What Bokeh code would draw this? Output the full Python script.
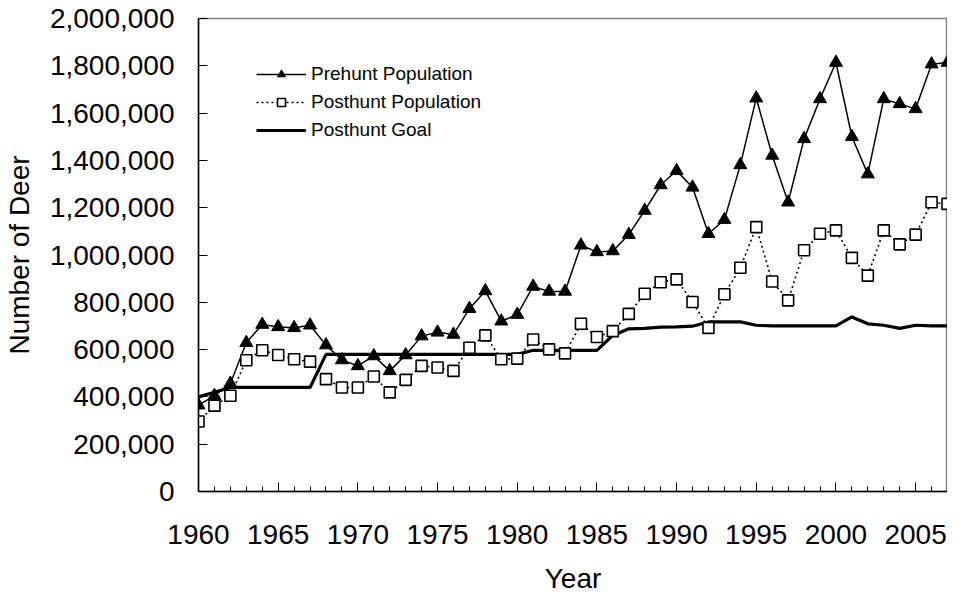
from bokeh.plotting import figure
from bokeh.models import (FixedTicker, NumeralTickFormatter, Legend, LegendItem,
                          Range1d, ColumnDataSource)
from bokeh.embed import file_html
from bokeh.resources import INLINE

years = [1960, 1961, 1962, 1963, 1964, 1965, 1966, 1967, 1968, 1969,
         1970, 1971, 1972, 1973, 1974, 1975, 1976, 1977, 1978, 1979,
         1980, 1981, 1982, 1983, 1984, 1985, 1986, 1987, 1988, 1989,
         1990, 1991, 1992, 1993, 1994, 1995, 1996, 1997, 1998, 1999,
         2000, 2001, 2002, 2003, 2004, 2005, 2006, 2007]

prehunt = [365000, 405000, 457000, 629000, 706000, 696000, 692000, 703000, 619000, 556000,
           531000, 573000, 510000, 577000, 657000, 673000, 664000, 773000, 848000, 720000,
           748000, 867000, 846000, 846000, 1041000, 1013000, 1017000, 1086000, 1188000, 1296000,
           1356000, 1286000, 1090000, 1149000, 1381000, 1663000, 1421000, 1223000, 1491000, 1660000,
           1814000, 1500000, 1342000, 1660000, 1639000, 1618000, 1807000, 1814000]

posthunt = [296000, 363000, 405000, 555000, 597000, 577000, 559000, 549000, 475000, 440000,
            440000, 486000, 419000, 472000, 531000, 524000, 510000, 608000, 660000, 559000,
            562000, 643000, 601000, 584000, 709000, 653000, 678000, 751000, 836000, 885000,
            897000, 801000, 692000, 834000, 946000, 1118000, 888000, 808000, 1020000, 1090000,
            1104000, 988000, 913000, 1104000, 1045000, 1086000, 1223000, 1216000]

goal = [400000, 420000, 440000, 440000, 440000, 440000, 440000, 440000, 580000, 580000,
        580000, 580000, 580000, 580000, 580000, 580000, 580000, 580000, 580000, 580000,
        580000, 597000, 597000, 597000, 597000, 597000, 660000, 688000, 690000, 695000,
        696000, 699000, 717000, 717000, 717000, 703000, 700000, 700000, 700000, 700000,
        700000, 738000, 709000, 703000, 690000, 703000, 700000, 700000]

major_years = [1960, 1965, 1970, 1975, 1980, 1985, 1990, 1995, 2000, 2005]
y_ticks = [0, 200000, 400000, 600000, 800000, 1000000, 1200000, 1400000,
           1600000, 1800000, 2000000]

src = ColumnDataSource(dict(year=years, pre=prehunt, post=posthunt, goal=goal))

FONT = "Liberation Sans"

p = figure(width=947, height=596, output_backend="svg", toolbar_location=None,
           x_range=Range1d(1960, 2007), y_range=Range1d(0, 2000000),
           min_border_left=193, min_border_right=0, min_border_top=18,
           min_border_bottom=101)
p.xgrid.visible = False
p.ygrid.visible = False
p.outline_line_color = "#808080"
p.outline_line_width = 1.5

# lines and markers
r_goal = p.line("year", "goal", source=src, line_color="black", line_width=3.2)
r_pre_l = p.line("year", "pre", source=src, line_color="black", line_width=1.5)
r_post_l = p.line("year", "post", source=src, line_color="black", line_width=1.6,
                  line_dash="2 3")
r_post_m = p.scatter("year", "post", source=src, marker="square", size=11,
                     fill_color="white", line_color="black", line_width=1.6)
r_pre_m = p.scatter("year", "pre", source=src, marker="triangle", size=13,
                    fill_color="black", line_color="black")

# axes
xa = p.xaxis[0]
xa.ticker = FixedTicker(ticks=major_years, minor_ticks=years)
xa.major_tick_in = 9
xa.major_tick_out = 0
xa.minor_tick_in = 5
xa.minor_tick_out = 0
xa.axis_line_color = "black"
xa.axis_line_width = 1.5
xa.major_label_text_font = FONT
xa.major_label_text_font_size = "28px"
xa.major_label_text_color = "black"
xa.major_label_standoff = 33
xa.axis_label = "Year"
xa.axis_label_text_font = FONT
xa.axis_label_text_font_size = "28px"
xa.axis_label_text_font_style = "normal"
xa.axis_label_text_color = "black"
xa.axis_label_standoff = 16

ya = p.yaxis[0]
ya.ticker = FixedTicker(ticks=y_ticks, minor_ticks=[])
ya.formatter = NumeralTickFormatter(format="0,0")
ya.major_tick_in = 9
ya.major_tick_out = 0
ya.axis_line_color = "black"
ya.axis_line_width = 1.5
ya.major_label_text_font = FONT
ya.major_label_text_font_size = "28px"
ya.major_label_text_color = "black"
ya.major_label_standoff = 24
ya.axis_label = "Number of Deer"
ya.axis_label_text_font = FONT
ya.axis_label_text_font_size = "28px"
ya.axis_label_text_font_style = "normal"
ya.axis_label_text_color = "black"
ya.axis_label_standoff = 12

legend = Legend(items=[
    LegendItem(label="Prehunt Population", renderers=[r_pre_l, r_pre_m]),
    LegendItem(label="Posthunt Population", renderers=[r_post_l, r_post_m]),
    LegendItem(label="Posthunt Goal", renderers=[r_goal]),
], location=(58, 350))
legend.border_line_color = None
legend.background_fill_alpha = 0
legend.label_text_font = FONT
legend.label_text_font_size = "19px"
legend.label_text_color = "black"
legend.glyph_width = 50
legend.glyph_height = 20
legend.label_height = 20
legend.spacing = 6
legend.padding = 0
legend.margin = 0
legend.label_standoff = 5
p.add_layout(legend)

open("out.html", "w").write(file_html(p, INLINE))
